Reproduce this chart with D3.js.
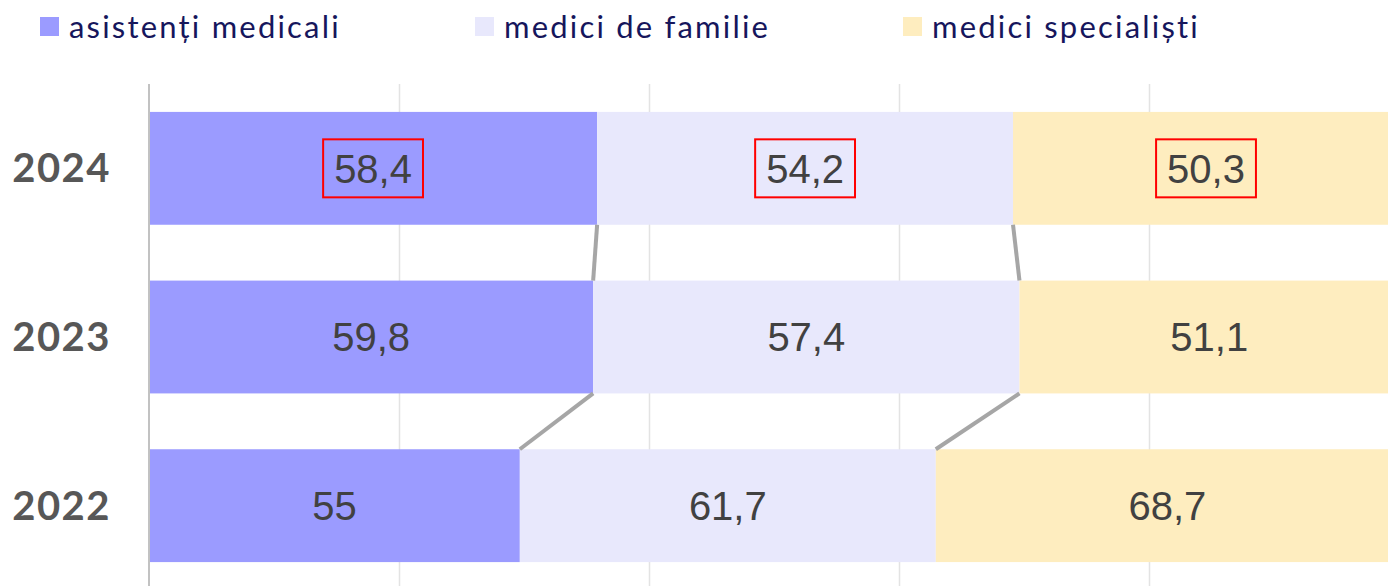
<!DOCTYPE html>
<html>
<head>
<meta charset="utf-8">
<script src="https://cdn.jsdelivr.net/npm/d3@7"></script>
<style>
  html, body { margin: 0; padding: 0; background: #ffffff; overflow: hidden; }
  svg { display: block; }
</style>
</head>
<body>
<svg id="chart" width="1388" height="586"></svg>
<script>
// Staff categories and their colours
const categories = ["asistenți medicali", "medici de familie", "medici specialiști"];
const colors = ["#9b9bff", "#e8e8fc", "#feedbf"];

// Years, top to bottom
const years = ["2024", "2023", "2022"];

// Values per year, in category order
const values2024 = [58.4, 54.2, 50.3];
const values2023 = [59.8, 57.4, 51.1];
const values2022 = [55, 61.7, 68.7];
const valuesByYear = [values2024, values2023, values2022];

// Years whose labels are highlighted with a frame
const highlightedYears = ["2024"];

// Gridline positions (share of the row total)
const gridTicks = [0, 0.2, 0.4, 0.6, 0.8, 1];

const svg = d3.select("#chart");

const x = d3.scaleLinear().domain([0, 1]).range([149, 1399]);
const y = d3.scaleBand().domain(years).range([84, 590]).paddingInner(0.331).paddingOuter(0.1655);

// Build stacked rows: each row is normalised to 100%
const rows = years.map((yr, i) => {
  const vals = valuesByYear[i];
  const total = d3.sum(vals);
  let acc = 0;
  const segs = vals.map((v, j) => {
    const s = { year: yr, cat: j, value: v, x0: acc / total, x1: (acc + v) / total };
    acc += v;
    return s;
  });
  return { year: yr, segs };
});

// Gridlines
svg.append("g")
  .selectAll("line")
  .data(gridTicks.slice(1))
  .join("line")
  .attr("x1", d => x(d) + 0.5).attr("x2", d => x(d) + 0.5)
  .attr("y1", 84).attr("y2", 586)
  .attr("stroke", "#e3e3e3").attr("stroke-width", 1.5);

// Bars
const bars = svg.append("g");
rows.forEach(r => {
  bars.selectAll(null)
    .data(r.segs)
    .join("rect")
    .attr("x", d => x(d.x0))
    .attr("width", d => x(d.x1) - x(d.x0))
    .attr("y", y(r.year))
    .attr("height", y.bandwidth())
    .attr("fill", d => colors[d.cat]);
});

// Connector lines between segment boundaries of adjacent rows
const conn = svg.append("g");
for (let i = 0; i < rows.length - 1; i++) {
  const upper = rows[i], lower = rows[i + 1];
  for (let j = 0; j < categories.length - 1; j++) {
    conn.append("line")
      .attr("x1", x(upper.segs[j].x1))
      .attr("y1", y(upper.year) + y.bandwidth())
      .attr("x2", x(lower.segs[j].x1))
      .attr("y2", y(lower.year))
      .attr("stroke", "#a6a6a6")
      .attr("stroke-width", 4);
  }
}

// Vertical axis line
svg.append("line")
  .attr("x1", 149).attr("x2", 149)
  .attr("y1", 84).attr("y2", 586)
  .attr("stroke", "#c2c2c2").attr("stroke-width", 2);

// Year labels
const yAxis = d3.axisLeft(y).tickSize(0).tickPadding(38);
const yg = svg.append("g").attr("transform", "translate(149,0)").call(yAxis);
yg.select(".domain").remove();
yg.selectAll("text")
  .attr("font-family", "Lato, 'Open Sans', sans-serif")
  .attr("font-weight", 700)
  .attr("font-size", 40)
  .attr("letter-spacing", 1.5)
  .attr("fill", "#575757")
  .attr("dy", "0.35em");

// Value labels
const fmt = v => String(v).replace(".", ",");
const labels = svg.append("g");
rows.forEach(r => {
  r.segs.forEach(s => {
    const cx = x((s.x0 + s.x1) / 2);
    const cy = y(r.year) + y.bandwidth() / 2;
    const t = labels.append("text")
      .attr("x", cx).attr("y", cy)
      .attr("dy", "0.36em")
      .attr("text-anchor", "middle")
      .attr("font-family", "'Liberation Sans', Arial, sans-serif")
      .attr("font-size", 40)
      .attr("fill", "#414141")
      .text(fmt(s.value));
    if (highlightedYears.includes(r.year)) {
      const bb = t.node().getBBox();
      labels.append("rect")
        .attr("x", cx - bb.width / 2 - 11)
        .attr("y", cy - 29)
        .attr("width", bb.width + 22)
        .attr("height", 58)
        .attr("fill", "none")
        .attr("stroke", "#ff0000")
        .attr("stroke-width", 2);
    }
  });
});

// Legend
const legendX = [40, 475, 903];
const legend = svg.append("g");
categories.forEach((c, i) => {
  legend.append("rect")
    .attr("x", legendX[i]).attr("y", 17)
    .attr("width", 19).attr("height", 19)
    .attr("fill", colors[i]);
  legend.append("text")
    .attr("x", legendX[i] + 29).attr("y", 38)
    .attr("font-family", "Lato, 'Open Sans', sans-serif")
    .attr("font-size", 31)
    .attr("letter-spacing", 2.2)
    .attr("fill", "#16165c")
    .text(c);
});
</script>
</body>
</html>
